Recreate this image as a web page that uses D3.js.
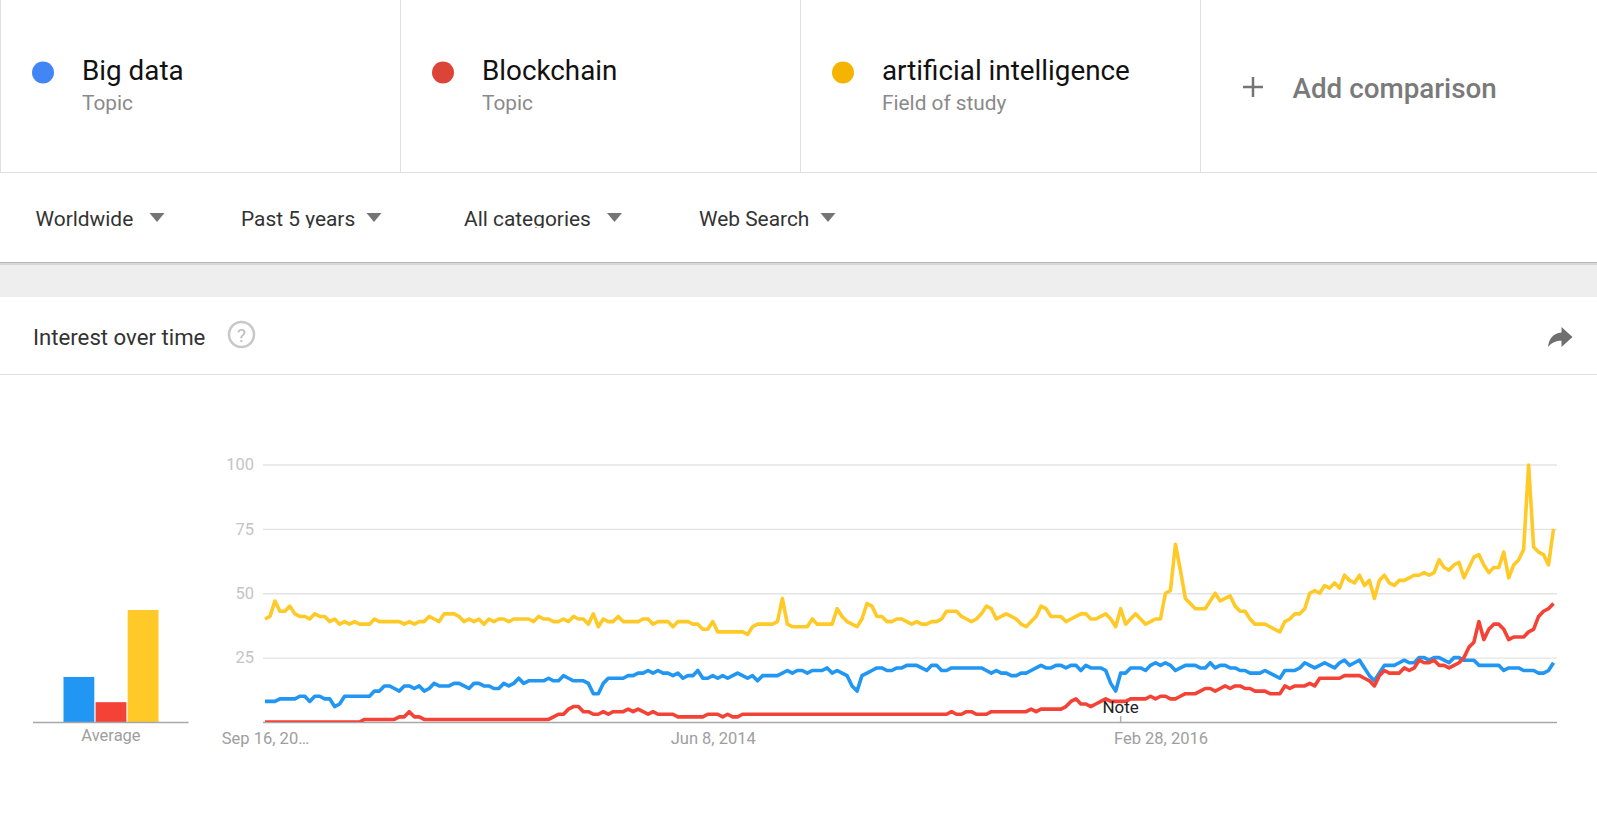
<!DOCTYPE html>
<html>
<head>
<meta charset="utf-8">
<title>Interest over time</title>
<style>
  html, body { margin: 0; padding: 0; background: #fff; overflow: hidden; }
  svg { display: block; }
  text { font-family: Roboto, sans-serif; }
</style>
<script src="https://cdn.jsdelivr.net/npm/d3@7"></script>
</head>
<body>
<script>
// Search terms shown in the header cards
const terms = ["Big data", "Blockchain", "artificial intelligence"];
const termKinds = ["Topic", "Topic", "Field of study"];
const dotColors = ["#4285f4", "#db4437", "#f4b400"];
const lineColors = ["#2196f3", "#f44336", "#ffca28"];
const filters = ["Worldwide", "Past 5 years", "All categories", "Web Search"];

// Weekly interest, starting Sep 16, 2012
const firstWeek = new Date(Date.UTC(2012, 8, 16));
const bigData = [
  8,8,8,9,9,9,9,10,10,8, 10,10,9,9,6,7,10,10,10,10,
  10,10,12,12,14,14,13,12,14,14, 13,14,12,13,15,14,14,14,15,15,
  14,13,15,15,14,14,13,13,15,14, 15,17,15,16,16,16,16,17,16,16,
  18,17,16,16,16,15,11,11,15,17, 17,17,17,18,18,19,19,20,19,20,
  19,19,18,19,17,18,18,20,17,17, 18,17,18,17,18,19,18,17,18,16,
  18,18,18,18,19,20,19,20,20,19, 20,20,20,21,19,20,19,18,14,12,
  18,19,20,21,21,20,20,21,21,22, 22,22,21,20,22,22,20,20,21,21,
  21,21,21,21,21,20,19,20,19,19, 18,18,19,19,20,21,22,21,21,22,
  22,21,22,22,20,22,21,21,21,20, 15,12,19,19,21,21,21,20,22,23,
  22,23,22,20,21,22,22,22,21,21, 23,21,22,22,21,21,20,20,19,19,
  19,20,19,18,17,20,20,20,21,23, 22,21,22,23,22,21,23,24,22,23,
  24,21,18,16,19,22,22,22,23,24, 23,23,25,25,24,25,25,24,23,25,
  25,24,24,24,22,22,22,22,22,20, 21,21,21,20,20,20,19,19,20,23
];
const blockchain = [
  0,0,0,0,0,0,0,0,0,0, 0,0,0,0,0,0,0,0,0,0,
  1,1,1,1,1,1,1,2,2,4, 2,2,1,1,1,1,1,1,1,1,
  1,1,1,1,1,1,1,1,1,1, 1,1,1,1,1,1,1,1,2,3,
  3,5,6,6,4,4,3,3,4,3, 4,4,4,5,4,5,4,3,4,3,
  3,3,3,2,2,2,2,2,2,3, 3,3,2,3,2,2,3,3,3,3,
  3,3,3,3,3,3,3,3,3,3, 3,3,3,3,3,3,3,3,3,3,
  3,3,3,3,3,3,3,3,3,3, 3,3,3,3,3,3,3,3,4,3,
  3,4,4,3,3,3,4,4,4,4, 4,4,4,4,5,4,5,5,5,5,
  5,6,8,9,7,7,6,7,8,9, 8,8,8,8,9,9,9,9,10,9,
  10,10,9,9,10,11,11,11,12,13, 13,12,13,14,13,14,14,13,13,12,
  12,12,11,11,11,14,13,14,14,14, 15,14,17,17,17,17,17,18,18,18,
  18,17,16,14,18,20,19,19,19,21, 20,21,24,23,23,24,22,22,21,22,
  23,25,29,31,39,32,36,38,38,36, 32,33,33,33,35,36,41,43,44,46
];
const artificialIntelligence = [
  40,41,47,43,43,45,42,41,41,40, 42,41,41,39,40,38,39,38,39,38,
  38,38,40,39,39,39,39,39,38,39, 38,39,39,41,40,39,42,42,42,41,
  39,40,39,40,38,40,39,40,40,39, 40,40,40,40,39,41,40,40,39,39,
  40,39,41,40,40,38,42,37,40,39, 39,41,39,39,39,39,40,40,38,39,
  39,39,37,39,39,39,38,38,36,36, 39,35,35,35,35,35,35,34,37,38,
  38,38,38,39,48,38,37,37,37,37, 40,38,38,38,38,44,41,39,38,37,
  40,46,45,41,41,39,39,40,40,39, 38,39,38,38,39,39,40,43,43,43,
  41,40,39,40,42,45,44,40,41,42, 41,40,38,37,39,41,45,44,41,41,
  41,39,40,41,42,42,40,40,41,42, 40,37,44,38,40,42,40,38,39,40,
  40,50,51,69,59,48,46,44,44,44, 47,50,47,48,49,45,43,43,40,38,
  38,38,37,36,35,39,40,42,42,44, 50,51,50,53,52,54,52,57,55,54,
  57,53,55,48,55,57,54,53,55,55, 56,57,57,58,57,58,63,60,59,61,
  62,56,60,64,65,61,58,60,60,66, 56,61,63,67,100,68,66,65,61,75
];
const averages = [17.5, 7.7, 43.5];
const yTicks = [25, 50, 75, 100];
const xTickDates = [new Date(Date.UTC(2012, 8, 16)), new Date(Date.UTC(2014, 5, 8)), new Date(Date.UTC(2016, 1, 28))];
const xTickLabels = ["Sep 16, 20…", "Jun 8, 2014", "Feb 28, 2016"];
const noteDate = new Date(Date.UTC(2016, 0, 3));

const width = 1597, height = 822;
const svg = d3.select("body").append("svg").attr("width", width).attr("height", height);

/* ---------- header cards ---------- */
const cardW = 400;
const header = svg.append("g");
terms.forEach((t, i) => {
  const g = header.append("g").attr("transform", `translate(${i * cardW},0)`);
  g.append("circle").attr("cx", 43).attr("cy", 72.5).attr("r", 11).attr("fill", dotColors[i]);
  g.append("text").attr("x", 82).attr("y", 80).attr("font-size", 27.8).attr("fill", "#111").text(t);
  g.append("text").attr("x", 82).attr("y", 110).attr("font-size", 20.8).attr("fill", "#8a8a8a").text(termKinds[i]);
});
[0.5, 400.5, 800.5, 1200.5].forEach(x => {
  header.append("line").attr("x1", x).attr("x2", x).attr("y1", 0).attr("y2", 172).attr("stroke", "#e0e0e0");
});
header.append("line").attr("x1", 0).attr("x2", width).attr("y1", 172.5).attr("y2", 172.5).attr("stroke", "#e0e0e0");
header.append("path").attr("d", "M1243 87h20M1253 77v20").attr("stroke", "#757575").attr("stroke-width", 2.5).attr("fill", "none");
header.append("text").attr("x", 1292.5).attr("y", 98).attr("font-size", 27.8).attr("font-weight", 500).attr("fill", "#7a7a7a").text("Add comparison");

/* ---------- filter row ---------- */
const filterX = [35.5, 241, 464, 699];
const caretX = [157, 374, 614.5, 828];
svg.append("clipPath").attr("id", "filter-clip").append("rect").attr("x", 0).attr("y", 200).attr("width", width).attr("height", 28);
filters.forEach((f, i) => {
  svg.append("text").attr("clip-path", "url(#filter-clip)").attr("x", filterX[i]).attr("y", 226)
    .attr("font-size", 20.9).attr("fill", "#333").text(f);
  svg.append("path").attr("d", `M${caretX[i] - 7.5} 213h15l-7.5 9z`).attr("fill", "#757575");
});

/* ---------- page band between the toolbar and the card ---------- */
svg.append("rect").attr("x", 0).attr("y", 265).attr("width", width).attr("height", 32).attr("fill", "#eeeeee");
svg.append("rect").attr("x", 0).attr("y", 262).attr("width", width).attr("height", 1.5).attr("fill", "#b5b5b5");
svg.append("rect").attr("x", 0).attr("y", 263.5).attr("width", width).attr("height", 1.5).attr("fill", "#d6d6d6");

/* ---------- card title ---------- */
svg.append("text").attr("x", 33).attr("y", 344.5).attr("font-size", 22.2).attr("fill", "#333").text("Interest over time");
svg.append("circle").attr("cx", 241.5).attr("cy", 334.5).attr("r", 12.5).attr("fill", "none").attr("stroke", "#c8c8c8").attr("stroke-width", 2.5);
svg.append("text").attr("x", 241.5).attr("y", 341.5).attr("text-anchor", "middle").attr("font-size", 19).attr("fill", "#bcbcbc").text("?");
svg.append("path").attr("d", "M1572.5 337 L1561.5 327 V332.5 C1553 333.5 1549 338.5 1548 347 C1552 342.5 1556 340.8 1561.5 340.8 V347 Z").attr("fill", "#6f6f6f");
svg.append("line").attr("x1", 0).attr("x2", width).attr("y1", 374.5).attr("y2", 374.5).attr("stroke", "#e0e0e0");

/* ---------- chart scales ---------- */
const plotTop = 464.5, plotBottom = 722;
const dates = bigData.map((_, i) => d3.utcWeek.offset(firstWeek, i));
const x = d3.scaleUtc().domain([dates[0], dates[dates.length - 1]]).range([265, 1553.5]);
const y = d3.scaleLinear().domain([0, 100]).range([plotBottom, plotTop]);

/* ---------- average bars ---------- */
const barBand = d3.scaleBand().domain(terms).range([63.5, 158.5]).paddingInner(0.04);
const barLayer = svg.append("g");
barLayer.selectAll("rect").data(averages).join("rect")
  .attr("x", (d, i) => barBand(terms[i]))
  .attr("width", barBand.bandwidth())
  .attr("y", d => y(d))
  .attr("height", d => y(0) - y(d))
  .attr("fill", (d, i) => lineColors[i]);
svg.append("line").attr("x1", 33).attr("x2", 188.5).attr("y1", plotBottom + 0.5).attr("y2", plotBottom + 0.5).attr("stroke", "#a8a8a8").attr("stroke-width", 1.5);
svg.append("text").attr("x", 111).attr("y", 740.5).attr("text-anchor", "middle").attr("font-size", 16.5).attr("fill", "#9e9e9e").text("Average");

/* ---------- grid and axes ---------- */
const yAxis = svg.append("g").attr("transform", "translate(263,0)")
  .call(d3.axisLeft(y).tickValues(yTicks).tickSize(-1294).tickPadding(9));
yAxis.select(".domain").remove();
yAxis.selectAll("line").attr("stroke", "#e4e4e4").attr("stroke-width", 1.4);
yAxis.selectAll("text").attr("font-size", 16.5).attr("fill", "#c4c4c4").attr("font-family", "Roboto, sans-serif");

/* ---------- x axis, under the lines so a zero value stays visible ---------- */
const xAxis = svg.append("g").attr("transform", `translate(0,${plotBottom})`)
  .call(d3.axisBottom(x).tickValues(xTickDates).tickSize(0).tickPadding(10)
    .tickFormat((d, i) => xTickLabels[i]));
xAxis.select(".domain").remove();
xAxis.selectAll("text").attr("font-size", 16.5).attr("fill", "#9e9e9e").attr("font-family", "Roboto, sans-serif");
svg.append("line").attr("x1", 263).attr("x2", 1557).attr("y1", plotBottom + 0.5).attr("y2", plotBottom + 0.5).attr("stroke", "#a8a8a8").attr("stroke-width", 1.5);

/* ---------- trend lines ---------- */
svg.append("clipPath").attr("id", "plot-clip").append("rect")
  .attr("x", 255).attr("y", plotTop - 1).attr("width", 1310).attr("height", plotBottom - plotTop + 1);
const line = d3.line().x((d, i) => x(dates[i])).y(d => y(d));
svg.append("g").attr("clip-path", "url(#plot-clip)").attr("fill", "none")
  .selectAll("path").data([artificialIntelligence, bigData, blockchain]).join("path")
  .attr("d", line)
  .attr("stroke", (d, i) => [lineColors[2], lineColors[0], lineColors[1]][i])
  .attr("stroke-width", 3.6)
  .attr("stroke-linejoin", "round");

/* ---------- annotation marker ---------- */
svg.append("line").attr("x1", x(noteDate)).attr("x2", x(noteDate)).attr("y1", plotBottom - 6).attr("y2", plotBottom).attr("stroke", "#b0b0b0").attr("stroke-width", 1.5);
svg.append("text").attr("x", x(noteDate)).attr("y", 713).attr("text-anchor", "middle").attr("font-size", 17).attr("fill", "#222").text("Note");
</script>
</body>
</html>
